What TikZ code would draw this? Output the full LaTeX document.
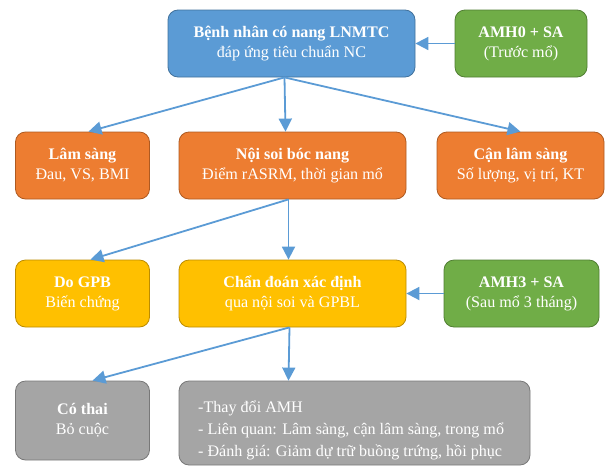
\documentclass[tikz,border=0pt]{standalone}
\usepackage{fontspec}
\setmainfont{Liberation Serif}
\usetikzlibrary{arrows.meta}
\definecolor{xanh}{HTML}{5B9BD5}
\definecolor{xanhdam}{HTML}{41719C}
\definecolor{cam}{HTML}{ED7D31}
\definecolor{camdam}{HTML}{AE5A21}
\definecolor{vang}{HTML}{FFC000}
\definecolor{vangdam}{HTML}{BC8C00}
\definecolor{luc}{HTML}{70AD47}
\definecolor{lucdam}{HTML}{507E32}
\definecolor{xam}{HTML}{A5A5A5}
\definecolor{xamdam}{HTML}{787878}
\begin{document}
\begin{tikzpicture}[x=1pt, y=-1pt, every node/.style={text=white, font=\fontsize{16.1}{20}\selectfont}]
	\tikzstyle{block} = [rectangle,rounded corners=10pt,inner sep=0pt,minimum height=67pt,align=center,line width=0.8pt]
	\tikzstyle{muiten} = [draw=xanh,line width=1.8pt,-{Triangle[length=13pt,width=13pt]}]
	\useasboundingbox (0,0) rectangle (607,466);
	\node[block,fill=xanh,draw=xanhdam,minimum width=247pt](BenhNhan)at(291.5,43.5){\textbf{Bệnh nhân có nang LNMTC}\\đáp ứng tiêu chuẩn NC};
	\node[block,fill=luc,draw=lucdam,minimum width=132pt](AMH0)at(521,43.5){\textbf{AMH0 + SA}\\(Trước mổ)};
	\node[block,fill=cam,draw=camdam,minimum width=134pt](LamSang)at(82.5,165.5){\textbf{Lâm sàng}\\Đau, VS, BMI};
	\node[block,fill=cam,draw=camdam,minimum width=227pt](NoiSoi)at(292.5,165.5){\textbf{Nội soi bóc nang}\\Điểm rASRM, thời gian mổ};
	\node[block,fill=cam,draw=camdam,minimum width=167pt](CanLamSang)at(520.5,165.5){\textbf{Cận lâm sàng}\\Số lượng, vị trí, KT};
	\node[block,fill=vang,draw=vangdam,minimum width=134pt](DoGPB)at(82.5,293.5){\textbf{Do GPB}\\Biến chứng};
	\node[block,fill=vang,draw=vangdam,minimum width=227pt](ChanDoan)at(292.5,293.5){\textbf{Chẩn đoán xác định}\\qua nội soi và GPBL};
	\node[block,fill=luc,draw=lucdam,minimum width=155pt](AMH3)at(521.5,293.5){\textbf{AMH3 + SA}\\(Sau mổ 3 tháng)};
	\node[block,fill=xam,draw=xamdam,minimum width=134pt,minimum height=79pt](CoThai)at(82.5,420.5){\textbf{Có thai}\\Bỏ cuộc};
	\node[block,fill=xam,draw=xamdam,minimum width=351pt,minimum height=84pt](ThayDoi)at(354.5,423){};
	\node[anchor=west,inner sep=0pt,align=left,font=\fontsize{16.1}{22}\selectfont](ThayDoiText)at(198,430){-Thay đổi AMH\\- Liên quan: Lâm sàng, cận lâm sàng, trong mổ\\- Đánh giá: Giảm dự trữ buồng trứng, hồi phục};
	\path (AMH0) edge[muiten] (BenhNhan)
	([xshift=-7pt]BenhNhan.south) edge[muiten] ([xshift=6pt]LamSang.north)
	([xshift=-7pt]BenhNhan.south) edge[muiten] ([xshift=-7pt]NoiSoi.north)
	([xshift=-7pt]BenhNhan.south) edge[muiten] (CanLamSang.north)
	([xshift=-4pt]NoiSoi.south) edge[muiten] ([xshift=8pt]DoGPB.north)
	([xshift=-4pt]NoiSoi.south) edge[muiten] ([xshift=-4pt]ChanDoan.north)
	(AMH3) edge[muiten] (ChanDoan)
	([xshift=-3pt]ChanDoan.south) edge[muiten] ([xshift=10pt]CoThai.north)
	([xshift=-3pt]ChanDoan.south) edge[muiten] ([xshift=-66pt]ThayDoi.north);
\end{tikzpicture}
\end{document}
